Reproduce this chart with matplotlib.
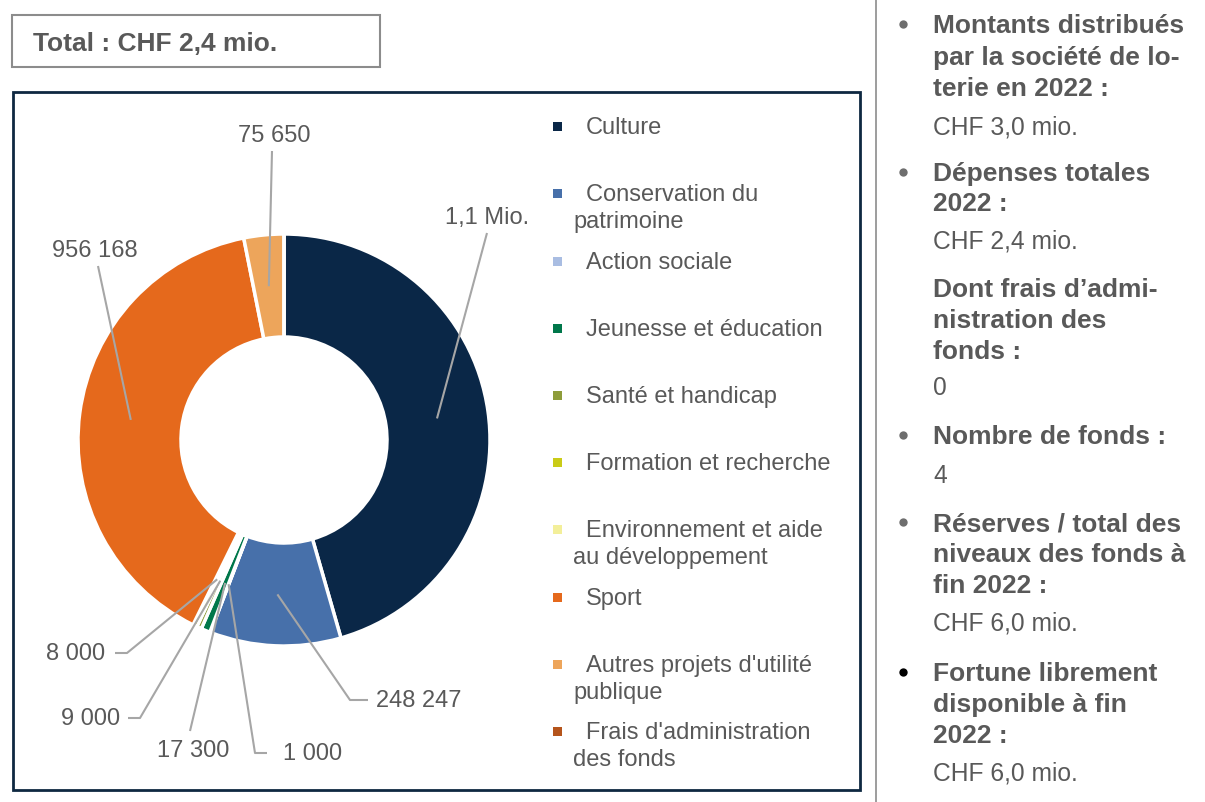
import numpy as np
import matplotlib
matplotlib.use("Agg")
import matplotlib.pyplot as plt
from matplotlib.patches import Rectangle

plt.rcParams['font.family'] = ['Liberation Sans', 'DejaVu Sans']

# data
categories = ["Culture", "Conservation du\npatrimoine", "Action sociale",
              "Jeunesse et éducation", "Santé et handicap", "Formation et recherche",
              "Environnement et aide\nau développement", "Sport",
              "Autres projets d'utilité\npublique", "Frais d'administration\ndes fonds"]
values = [1100000, 248247, 1000, 17300, 9000, 8000, 0, 956168, 75650, 0]
colors = ["#0A2747", "#4770AA", "#A9BDE2", "#00774A", "#8E9C3A", "#CACB17",
          "#F3EF9A", "#E5691C", "#EDA55B", "#B5541B"]

total_label = "Total : CHF 2,4 mio."
side_lines = [
    ("Montants distribués", True, True), ("par la société de lo-", True, False),
    ("terie en 2022 :", True, False), ("CHF 3,0 mio.", False, False),
    ("Dépenses totales", True, True), ("2022 :", True, False),
    ("CHF 2,4 mio.", False, False), ("Dont frais d’admi-", True, False),
    ("nistration des", True, False), ("fonds :", True, False), ("0", False, False),
    ("Nombre de fonds :", True, True), ("4", False, False),
    ("Réserves / total des", True, True), ("niveaux des fonds à", True, False),
    ("fin 2022 :", True, False), ("CHF 6,0 mio.", False, False),
    ("Fortune librement", True, True), ("disponible à fin", True, False),
    ("2022 :", True, False), ("CHF 6,0 mio.", False, False),
]
side_y = [24, 56, 87, 125, 172, 202, 240, 288, 319, 350, 386, 435, 474,
          522, 553, 584, 621, 672, 703, 734, 771]


def fmt(v):
    if v >= 1e6:
        return f"{v / 1e6:.1f}".replace(".", ",") + " Mio."
    return f"{v:,.0f}".replace(",", " ")


TXT = "#595959"
LEAD = "#A6A6A6"
W, H = 1205, 802
fig = plt.figure(figsize=(W / 100, H / 100), dpi=100)

# overlay for boxes / text in pixel coords
ov = fig.add_axes([0, 0, 1, 1])
ov.set_xlim(0, W)
ov.set_ylim(H, 0)
ov.axis("off")

ov.add_patch(Rectangle((12, 15), 368, 52, fill=False, ec="#8C8C8C", lw=1.5))
ov.text(33, 44, total_label, fontsize=19, fontweight="bold", color=TXT, va="center")
ov.add_patch(Rectangle((13, 92), 847, 698, fill=False, ec="#0E2841", lw=2))
ov.plot([876, 876], [0, H], color="#8C8C8C", lw=1.2)

# legend
leg_y = [126, 193, 261, 328, 395, 462, 529, 597, 664, 731]
for cat, col, y in zip(categories, colors, leg_y):
    ov.add_patch(Rectangle((553, y - 4), 9, 9, fc=col, ec="none"))
    parts = cat.split("\n")
    ov.text(586, y + 2, parts[0], fontsize=17, color=TXT, va="center")
    if len(parts) > 1:
        ov.text(573, y + 29, parts[1], fontsize=17, color=TXT, va="center")

# right panel
for (txt, bold, bullet), y in zip(side_lines, side_y):
    ov.text(933, y + 2, txt, fontsize=19 if bold else 17.7, color=TXT, va="center",
            fontweight="bold" if bold else "normal")
    if bullet:
        ov.plot(903, y, "o", ms=6, mec="none",
                color="#000000" if y > 650 else "#6E6E6E")

# donut
cx, cy, R = 284, 440, 206
x0, x1, y0, y1 = 13, 540, 92, 790
ax = fig.add_axes([x0 / W, 1 - y1 / H, (x1 - x0) / W, (y1 - y0) / H])


def px(x, y):
    return (x - cx) / R, (cy - y) / R


wedges, _ = ax.pie(values, colors=colors, startangle=90, counterclock=False,
                   radius=1, wedgeprops=dict(width=0.5, edgecolor="white", linewidth=2.5))
ax.set_xlim((x0 - cx) / R, (x1 - cx) / R)
ax.set_ylim((cy - y1) / R, (cy - y0) / R)
ax.set_aspect("auto")
ax.axis("off")

# label placement: (text x, text y, ha, leader points)
place = {
    0: ((487, 218), "center", [(487, 233)]),
    1: ((376, 701), "left", [(368, 700), (350, 700)]),
    2: ((283, 754), "left", [(267, 753), (255, 753)]),
    3: ((193, 751), "center", [(190, 731)]),
    4: ((120, 719), "right", [(128, 718), (140, 718)]),
    5: ((105, 654), "right", [(115, 653), (127, 653)]),
    7: ((95, 251), "center", [(98, 266)]),
    8: ((274, 136), "center", [(272, 151)]),
}
for i, ((tx, ty), ha, pts) in place.items():
    w = wedges[i]
    mid = np.deg2rad((w.theta1 + w.theta2) / 2)
    end = (0.75 * np.cos(mid), 0.75 * np.sin(mid))
    path = [px(*p) for p in pts] + [end]
    ax.plot([p[0] for p in path], [p[1] for p in path], color=LEAD, lw=1.5,
            solid_capstyle="butt", clip_on=False)
    lx, ly = px(tx, ty)
    ax.text(lx, ly, fmt(values[i]), fontsize=17, color=TXT, ha=ha, va="center")

fig.savefig("out.png", dpi=100)
